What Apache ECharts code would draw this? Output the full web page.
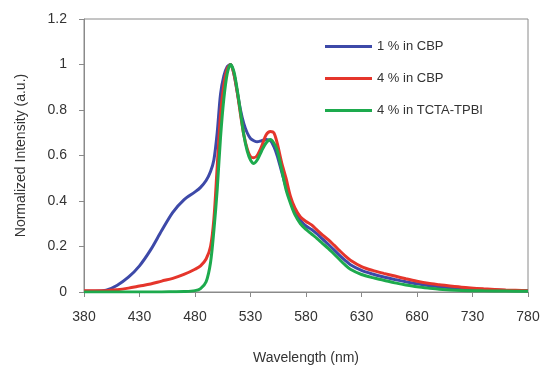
<!DOCTYPE html>
<html>
<head>
<meta charset="utf-8">
<script src="https://cdn.jsdelivr.net/npm/echarts@6/dist/echarts.min.js"></script>
<style>html,body{margin:0;padding:0;background:#fff;}#c{width:543px;height:370px;}</style>
</head>
<body>
<div id="c"></div>
<script>
var wavelengths = [380,390,400,410,420,430,440,450,460,470,480,485,490,494,497,500,503,506,509,512,515,518,521,524,527,530,533,536,540,544,548,551,554,558,562,566,570,575,580,585,590,595,600,605,610,615,620,630,640,650,660,670,680,690,700,720,740,760,780];
var blue1CBP = [0.003,0.003,0.008,0.03,0.065,0.115,0.185,0.27,0.35,0.405,0.44,0.46,0.49,0.53,0.58,0.70,0.87,0.95,0.99,1.0,0.96,0.88,0.80,0.74,0.70,0.675,0.665,0.66,0.665,0.67,0.665,0.64,0.60,0.53,0.46,0.40,0.35,0.315,0.29,0.275,0.255,0.232,0.21,0.186,0.162,0.14,0.12,0.095,0.079,0.066,0.055,0.045,0.036,0.029,0.023,0.015,0.01,0.007,0.005];
var red4CBP = [0.006,0.006,0.006,0.01,0.017,0.026,0.035,0.048,0.06,0.077,0.10,0.115,0.145,0.20,0.32,0.55,0.78,0.91,0.98,1.0,0.96,0.88,0.78,0.69,0.63,0.595,0.59,0.60,0.64,0.69,0.705,0.70,0.655,0.57,0.50,0.42,0.37,0.33,0.31,0.295,0.272,0.25,0.23,0.207,0.183,0.16,0.14,0.112,0.095,0.082,0.07,0.058,0.047,0.038,0.032,0.021,0.014,0.009,0.006];
var greenTCTA = [0.0,0.0,0.0,0.0,0.0,0.0,0.0,0.0,0.001,0.002,0.006,0.015,0.045,0.13,0.27,0.45,0.68,0.85,0.96,1.0,0.97,0.89,0.79,0.69,0.62,0.58,0.565,0.58,0.62,0.655,0.67,0.655,0.625,0.54,0.45,0.39,0.34,0.30,0.275,0.255,0.235,0.213,0.192,0.168,0.144,0.12,0.1,0.077,0.063,0.052,0.04,0.031,0.023,0.017,0.012,0.007,0.005,0.004,0.003];
var seriesNames = ['1 % in CBP','4 % in CBP','4 % in TCTA-TPBI'];
var seriesColors = ['#3d49a8','#e5352b','#1daa4d'];
var xTicks = {min:380, max:780, interval:50};
var yTicks = {min:0, max:1.2, interval:0.2};

function pairs(vals){ return wavelengths.map(function(w,i){ return [w, vals[i]]; }); }
var allVals = [blue1CBP, red4CBP, greenTCTA];
var FONT = 'Liberation Sans, Arial, sans-serif';

var chart = echarts.init(document.getElementById('c'), null, {renderer:'canvas'});
chart.setOption({
  animation:false,
  backgroundColor:'#fff',
  grid:{left:84, right:15, top:19, bottom:77, show:true, borderColor:'#8a8a8a', borderWidth:1, backgroundColor:'transparent'},
  legend:{
    orient:'vertical', left:320, top:35, itemWidth:47, itemHeight:3, itemGap:19, icon:'rect',
    data:seriesNames,
    textStyle:{fontFamily:FONT, fontSize:13, color:'#333'}
  },
  xAxis:{
    type:'value', min:xTicks.min, max:xTicks.max, interval:xTicks.interval,
    name:'Wavelength (nm)', nameLocation:'middle', nameGap:59,
    nameTextStyle:{fontFamily:FONT, fontSize:14, color:'#333'},
    axisLine:{lineStyle:{color:'#8a8a8a', width:1}},
    axisTick:{show:true, length:5, lineStyle:{color:'#8a8a8a'}},
    axisLabel:{fontFamily:FONT, fontSize:14, color:'#333', margin:18},
    splitLine:{show:false}
  },
  yAxis:{
    type:'value', min:yTicks.min, max:yTicks.max, interval:yTicks.interval,
    name:'Normalized Intensity (a.u.)', nameLocation:'middle', nameGap:56,
    nameTextStyle:{fontFamily:FONT, fontSize:14, color:'#333'},
    axisLine:{show:true, lineStyle:{color:'#8a8a8a', width:1}},
    axisTick:{show:true, length:5, lineStyle:{color:'#8a8a8a'}},
    axisLabel:{fontFamily:FONT, fontSize:14, color:'#333', margin:17},
    splitLine:{show:false}
  },
  series: seriesNames.map(function(n,i){
    return {
      name:n, type:'line', smooth:0.3, showSymbol:false, symbol:'none',
      data:pairs(allVals[i]),
      lineStyle:{color:seriesColors[i], width:3},
      itemStyle:{color:seriesColors[i]},
      z:2+i
    };
  })
});
</script>
</body>
</html>
